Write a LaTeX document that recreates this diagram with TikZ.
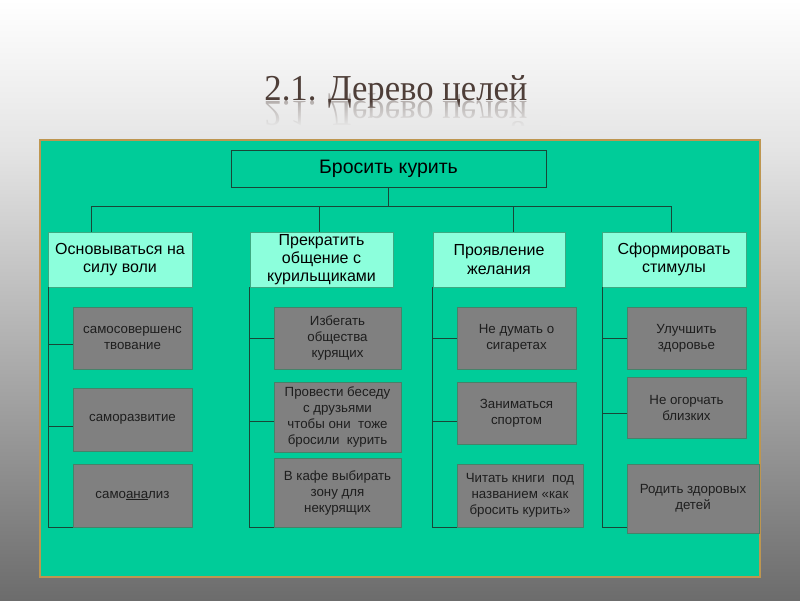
\documentclass[tikz,border=0pt]{standalone}
\usepackage{fontspec}
\setmainfont{Liberation Sans}
\newfontfamily\titlefont[FakeStretch=0.95]{Liberation Serif}
\usetikzlibrary{calc,fadings}
\definecolor{panelc}{RGB}{0,204,153}
\definecolor{panelborder}{RGB}{190,150,80}
\definecolor{lvlfill}{RGB}{140,255,220}
\definecolor{lvlborder}{RGB}{60,170,130}
\definecolor{grayfill}{RGB}{128,128,128}
\definecolor{grayborder}{RGB}{70,130,105}
\definecolor{graytext}{RGB}{30,30,30}
\definecolor{treec}{RGB}{25,70,55}
\definecolor{titlec}{RGB}{78,62,56}
\definecolor{bgmid}{RGB}{228,228,228}
\definecolor{bgbot}{RGB}{108,108,108}
\definecolor{bgA}{RGB}{237,237,237}
\definecolor{bgB}{RGB}{232,232,232}
\definecolor{bgC}{RGB}{230,230,230}
\tikzset{
  topbox/.style={draw=treec, fill=panelc, line width=0.8pt, inner sep=0pt,
    font=\fontsize{19.5}{22}\selectfont, text=black},
  lvlbox/.style={draw=lvlborder, fill=lvlfill, line width=0.6pt, inner sep=0pt,
    align=center, font=\fontsize{16}{18.3}\selectfont, text=black},
  graybox/.style={draw=grayborder, fill=grayfill, line width=0.8pt, inner sep=0pt,
    align=center, font=\fontsize{13.3}{16}\selectfont, text=graytext},
  tree/.style={draw=treec, line width=1pt},
  titletext/.style={font=\titlefont\fontsize{36.5}{36.5}\selectfont, text=titlec, inner sep=0pt},
}
\begin{document}
\begin{tikzpicture}[x=1pt,y=-1pt]
\useasboundingbox (0,0) rectangle (800,600);
% background
\shade[top color=white, bottom color=bgmid] (0,0) rectangle (800,150);
\shade[top color=bgmid, bottom color=bgbot] (0,150) rectangle (800,600);
% title
\node[titletext, anchor=base] (title) at (396,100) {2.1. Дерево целей};
\begin{scope}[shift={(396,101)}, yscale=-1]
\node[titletext, transform shape, anchor=base, opacity=0.35] (titlerefl) at (0,0) {2.1. Дерево целей};
\end{scope}
\shade[top color=bgA, bottom color=bgB, path fading=north] (240,101) rectangle (560,127);
\shade[top color=bgB, bottom color=bgC] (240,126.5) rectangle (560,138);
% panel
\draw[draw=panelborder, fill=panelc, line width=2pt] (40,140) rectangle (760,577);
% top
\node[topbox, minimum width=315pt, minimum height=37pt] (top) at (388.5,168.5) {Бросить курить};
% level 2
\node[lvlbox, minimum width=144pt, minimum height=55pt] (L1) at (120,259.5) {Основываться на\\силу воли};
\node[lvlbox, minimum width=143pt, minimum height=55pt] (L2) at (321.5,259.5) {Прекратить\\общение с\\курильщиками};
\node[lvlbox, minimum width=132pt, minimum height=55pt] (L3) at (499,259.5) {Проявление\\желания};
\node[lvlbox, minimum width=144pt, minimum height=55pt] (L4) at (674,259.5) {Сформировать\\стимулы};
% bus
\coordinate (k1) at (91,206);
\coordinate (k2) at (319,206);
\coordinate (k3) at (513,206);
\coordinate (k4) at (671,206);
\draw[tree] (top.south) -- (top.south |- k1);
\draw[tree] (k1) -- (k4);
\draw[tree] (k1) -- (k1 |- L1.north);
\draw[tree] (k2) -- (k2 |- L2.north);
\draw[tree] (k3) -- (k3 |- L3.north);
\draw[tree] (k4) -- (k4 |- L4.north);
% gray boxes
\node[graybox, minimum width=119pt, minimum height=62pt] (a1) at (132.5,338) {самосовершенс\\твование};
\node[graybox, minimum width=119pt, minimum height=63pt] (a2) at (132.5,419.5) {саморазвитие};
\node[graybox, minimum width=119pt, minimum height=63pt] (a3) at (132.5,495.5) {само\underline{ана}лиз};
\node[graybox, minimum width=127pt, minimum height=62pt] (b1) at (337.5,338) {Избегать\\общества\\курящих};
\node[graybox, minimum width=127pt, minimum height=70pt] (b2) at (337.5,417) {Провести беседу\\с друзьями\\чтобы они\ \ тоже\\бросили\ \ курить};
\node[graybox, minimum width=127pt, minimum height=69pt] (b3) at (337.5,492.5) {В кафе выбирать\\зону для\\некурящих};
\node[graybox, minimum width=119pt, minimum height=62pt] (c1) at (516.5,338) {Не думать о\\сигаретах};
\node[graybox, minimum width=119pt, minimum height=62pt] (c2) at (516.5,413) {Заниматься\\спортом};
\node[graybox, minimum width=126pt, minimum height=63pt] (c3) at (520,495.5) {Читать книги\ \ под\\названием «как\\бросить курить»};
\node[graybox, minimum width=119pt, minimum height=62pt] (d1) at (686.5,338) {Улучшить\\здоровье};
\node[graybox, minimum width=119pt, minimum height=61pt] (d2) at (686.5,407.5) {Не огорчать\\близких};
\node[graybox, minimum width=132pt, minimum height=69pt] (d3) at (693,498.5) {Родить здоровых\\детей};
% column connectors
\coordinate (v1) at (48,287);
\coordinate (v2) at (249,287);
\coordinate (v3) at (432,287);
\coordinate (v4) at (602,287);
\coordinate (ta1) at ($(a1.west)+(0,6)$);
\coordinate (ta2) at ($(a2.west)+(0,6.5)$);
\coordinate (tb2) at ($(b2.west)+(0,4)$);
\coordinate (tc2) at ($(c2.west)+(0,8)$);
\coordinate (td2) at ($(d2.west)+(0,5.5)$);
\draw[tree] (v1) -- (v1 |- a3.south west) -- (a3.south west);
\draw[tree] (ta1) -- (ta1 -| v1);
\draw[tree] (ta2) -- (ta2 -| v1);
\draw[tree] (v2) -- (v2 |- b3.south west) -- (b3.south west);
\draw[tree] (b1.west) -- (b1.west -| v2);
\draw[tree] (tb2) -- (tb2 -| v2);
\draw[tree] (v3) -- (v3 |- c3.south west) -- (c3.south west);
\draw[tree] (c1.west) -- (c1.west -| v3);
\draw[tree] (tc2) -- (tc2 -| v3);
\draw[tree] (v4) -- (v4 |- a3.south) -- (a3.south -| d3.west);
\draw[tree] (d1.west) -- (d1.west -| v4);
\draw[tree] (td2) -- (td2 -| v4);
\end{tikzpicture}
\end{document}
